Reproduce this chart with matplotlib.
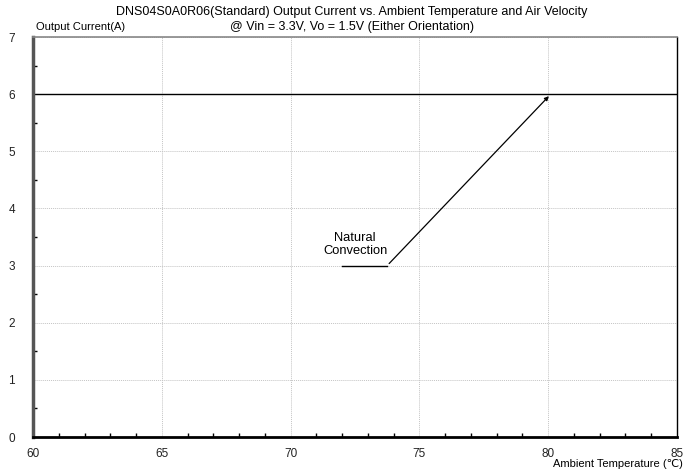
import numpy as np
import matplotlib.pyplot as plt
from matplotlib.ticker import MultipleLocator

# Data
temps = [60, 85]
current = [6, 6]
x_ticks = [60, 65, 70, 75, 80, 85]
y_ticks = [0, 1, 2, 3, 4, 5, 6, 7]

# annotation path: text end -> elbow -> arrow tip
label_start = (72.0, 3.0)
label_elbow = (73.75, 3.0)
arrow_tip = (80.1, 6.0)
label_pos = (72.5, 3.37)

plt.rcParams['font.family'] = ['Liberation Sans', 'DejaVu Sans']

fig = plt.figure(figsize=(6.97, 4.75), dpi=100)
ax = fig.add_axes([33 / 697, 38 / 475, 644 / 697, 400 / 475])

ax.plot(temps, current, color='black', lw=1.0)

ax.set_xlim(60, 85)
ax.set_ylim(0, 7)
ax.set_xticks(x_ticks)
ax.set_yticks(y_ticks)
ax.xaxis.set_minor_locator(MultipleLocator(1))
ax.yaxis.set_minor_locator(MultipleLocator(0.5))
ax.tick_params(which='both', direction='in', length=3, width=1, labelsize=8.5, labelcolor='#222222')
ax.tick_params(axis='x', which='major', length=0, pad=8)
ax.tick_params(axis='y', which='major', length=0, pad=13)
ax.tick_params(top=False, right=False)

ax.grid(True, which='major', color='#c4c4c4', linestyle=(0, (1, 1)), lw=0.7)

ax.spines['top'].set_linewidth(1.2)
ax.spines['top'].set_color('#888888')
ax.spines['right'].set_linewidth(1.0)
ax.spines['left'].set_linewidth(2.5)
ax.spines['left'].set_color('#555555')
ax.spines['bottom'].set_linewidth(2.0)

# annotation
ax.plot([label_start[0], label_elbow[0]], [label_start[1], label_elbow[1]], color='black', lw=1.0)
ax.annotate('', xy=arrow_tip, xytext=label_elbow,
            arrowprops=dict(arrowstyle='-|>', color='black', lw=0.9, mutation_scale=6))
ax.text(label_pos[0], label_pos[1], 'Natural\nConvection', ha='center', va='center',
        fontsize=9.3, linespacing=1.1)

fig.text(352 / 697, 1 - 12 / 475, 'DNS04S0A0R06(Standard) Output Current vs. Ambient Temperature and Air Velocity',
         ha='center', va='center', fontsize=9)
fig.text(352 / 697, 1 - 27 / 475, '@ Vin = 3.3V, Vo = 1.5V (Either Orientation)',
         ha='center', va='center', fontsize=9)
fig.text(36 / 697, 1 - 27 / 475, 'Output Current(A)', ha='left', va='center', fontsize=8)
fig.text(683 / 697, 1 - 464 / 475, 'Ambient Temperature (℃)', ha='right', va='center', fontsize=8)

fig.savefig('out.png', dpi=100)
